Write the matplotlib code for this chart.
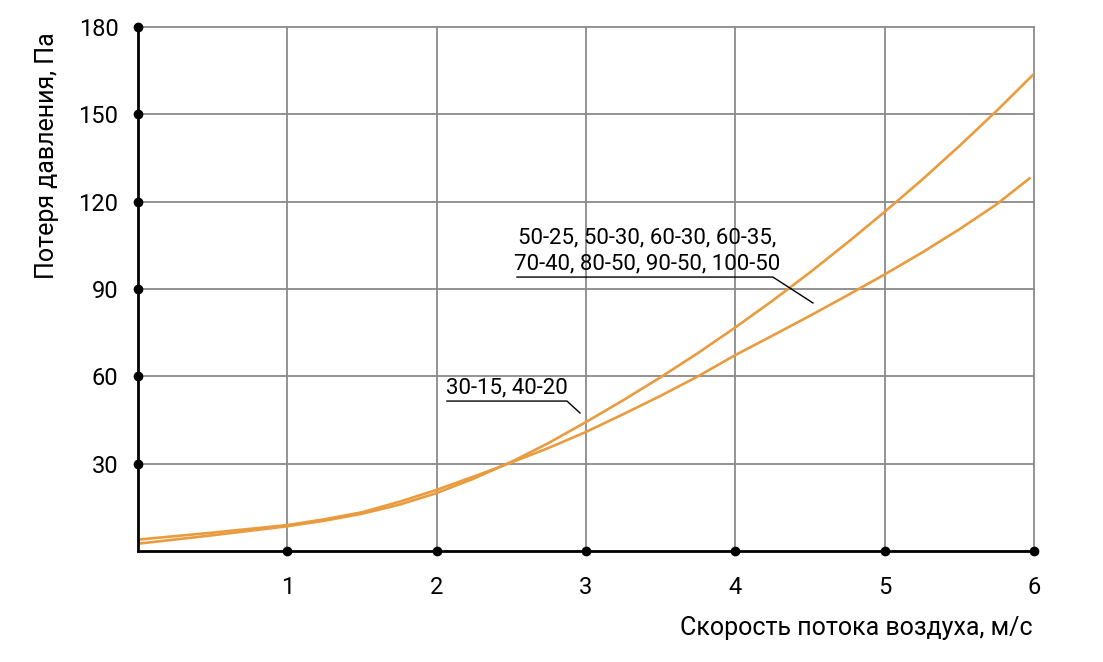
import numpy as np
import matplotlib.pyplot as plt

plt.rcParams['font.family'] = ['Roboto', 'DejaVu Sans']

# air velocity, m/s
speed = [0, 0.5, 1, 1.25, 1.5, 1.75, 2, 2.25, 2.5, 2.75, 3, 3.25, 3.5, 3.75, 4,
         4.25, 4.5, 4.75, 5, 5.25, 5.5, 5.75, 6]
# pressure loss, Pa (small ducts)
loss_small = [2.5, 5.4, 8.5, 10.4, 12.8, 15.9, 19.9, 24.9, 30.6, 37.1, 44.3, 51.8, 59.7, 68.0, 76.8,
              86.0, 95.7, 105.9, 116.5, 127.5, 139.1, 151.2, 163.9]
# pressure loss, Pa (large ducts)
speed_big = [0, 0.5, 1, 1.25, 1.5, 1.75, 2, 2.25, 2.5, 2.75, 3, 3.25, 3.5, 3.75, 4,
             4.25, 4.5, 4.75, 5, 5.25, 5.5, 5.75, 5.97]
loss_big = [3.9, 6.3, 8.9, 10.9, 13.3, 16.9, 21.0, 25.6, 30.4, 35.4, 40.9, 47.0, 53.3, 60.0, 67.3,
            74.0, 80.8, 87.8, 95.0, 102.5, 110.5, 119.1, 128.0]

label_small = '30-15, 40-20'
label_big = '50-25, 50-30, 60-30, 60-35,\n70-40, 80-50, 90-50, 100-50'

xticks = [1, 2, 3, 4, 5, 6]
yticks = [30, 60, 90, 120, 150, 180]

orange = '#e89c3f'

fig = plt.figure(figsize=(11.03, 6.62), dpi=100)
ax = fig.add_axes([0.1251, 0.1677, 0.8123, 0.7915])
ax.set_xlim(0, 6)
ax.set_ylim(0, 180)

# grid
for xv in xticks:
    ax.plot([xv, xv], [0, 180], color='#8a8a8a', lw=1.3, zorder=1, clip_on=False)
for yv in yticks:
    ax.plot([0, 6], [yv, yv], color='#8a8a8a', lw=1.3, zorder=1, clip_on=False)

for s in ['top', 'right']:
    ax.spines[s].set_visible(False)
for s in ['left', 'bottom']:
    ax.spines[s].set_linewidth(2)
    ax.spines[s].set_zorder(4)

ax.plot(xticks, [0] * len(xticks), 'o', color='black', ms=6, clip_on=False, zorder=5)
ax.plot([0] * len(yticks), yticks, 'o', color='black', ms=6, clip_on=False, zorder=5)

ax.plot(speed, loss_small, color=orange, lw=1.9, zorder=3)
ax.plot(speed_big, loss_big, color=orange, lw=1.9, zorder=3)

ax.set_xticks(xticks)
ax.set_yticks(yticks)
ax.tick_params(length=0, labelsize=17)
ax.tick_params(axis='y', pad=14)
ax.tick_params(axis='x', pad=18)

ax.set_ylabel('Потеря давления, Па', fontsize=18)
ax.yaxis.set_label_coords(-0.088, 0.755)
ax.set_xlabel('Скорость потока воздуха, м/с', fontsize=18, ha='right')
ax.xaxis.set_label_coords(0.998, -0.124)

# callouts
ax.text(2.06, 52.4, label_small, fontsize=16, ha='left', va='bottom')
ax.plot([2.069, 2.873, 2.96], [51.5, 51.5, 47.4], color='black', lw=1, zorder=4)

ax.text(3.408, 95.0, label_big, fontsize=16, ha='center', va='bottom',
        multialignment='center', linespacing=1.3)
ax.plot([2.538, 4.252, 4.52], [94.1, 94.1, 85.2], color='black', lw=1, zorder=4)

fig.savefig('out.png', dpi=100)
